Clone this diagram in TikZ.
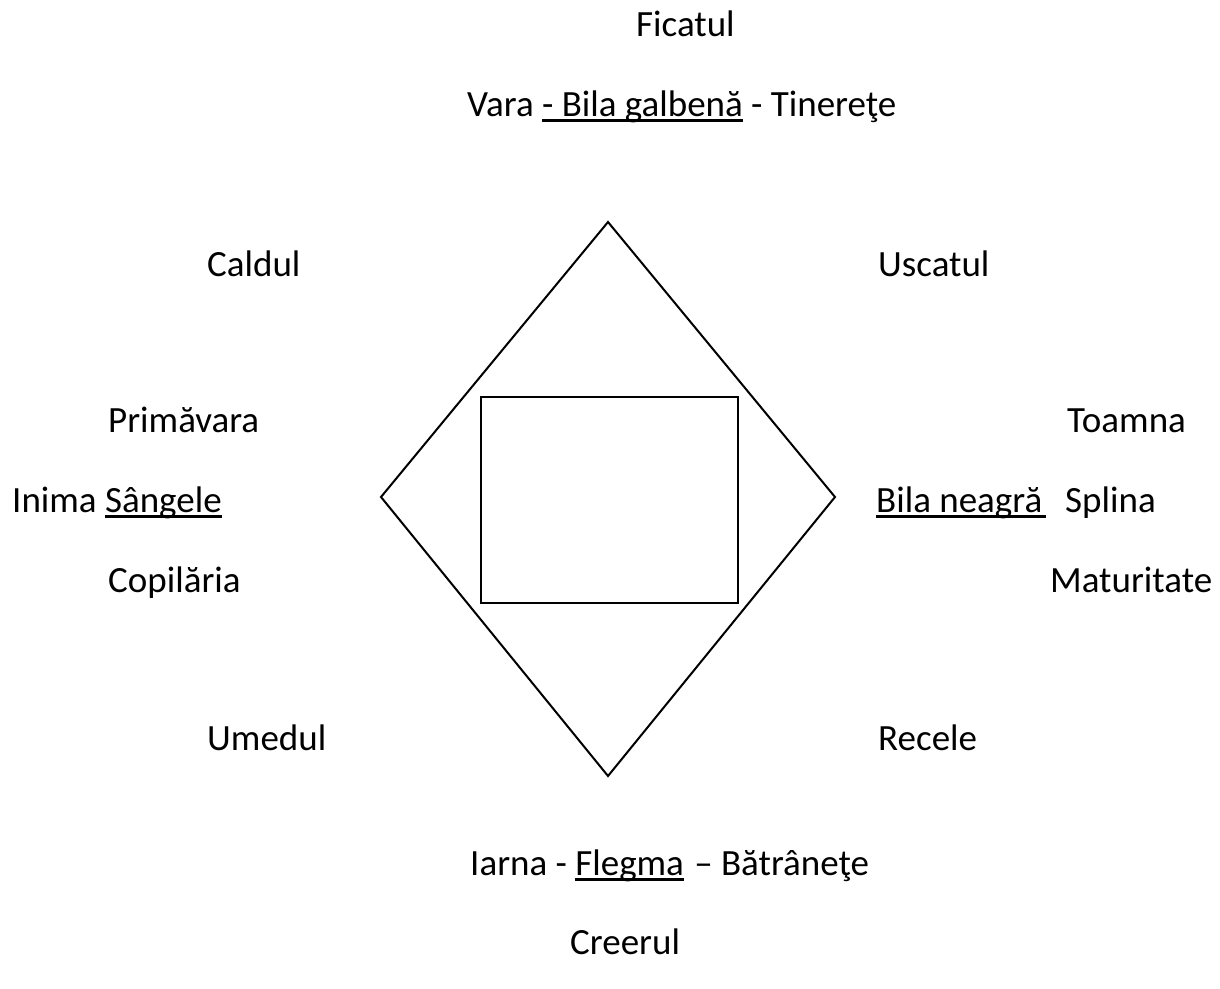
\documentclass[tikz,border=0pt]{standalone}
\usepackage{fontspec}
\setmainfont{Carlito}
\newcommand\myul[1]{\setbox0\hbox{#1}\rlap{\rule[-5.5pt]{\wd0}{2.6pt}}\box0\relax}
\begin{document}
\begin{tikzpicture}[x=1pt,y=-1pt,
  lbl/.style={anchor=base west,inner sep=0pt,font=\fontsize{37}{44}\selectfont},
  shapeline/.style={draw=black,line width=2pt,line join=miter}]
\useasboundingbox (0,0) rectangle (1220,988);
% diamond corners
\coordinate (T) at (608,222);
\coordinate (R) at (835,497);
\coordinate (B) at (608,776);
\coordinate (L) at (381,497);
\draw[shapeline] (T) -- (R) -- (B) -- (L) -- cycle;
\node[shapeline,line width=2.4pt,rectangle,minimum width=257pt,minimum height=206pt,inner sep=0pt] (box) at (609.5,500) {};
% labels
\node[lbl] (ficat) at (636,36) {Ficatul};
\node[lbl] (vara) at (467,116) {Vara \myul{- Bila galbenă} - Tinereţe};
\node[lbl] (cald) at (207,276) {Caldul};
\node[lbl] (usc) at (878,276) {Uscatul};
\node[lbl] (prim) at (108,432) {Primăvara};
\node[lbl] (toamna) at (1067,432) {Toamna};
\node[lbl] (inima) at (12,512) {Inima \myul{Sângele}};
\node[lbl] (bila) at (876,512) {\myul{Bila neagră\hspace{4pt}}\hspace{19pt}Splina};
\node[lbl] (copil) at (108,592) {Copilăria};
\node[lbl] (matur) at (1050,592) {Maturitate};
\node[lbl] (umed) at (207,750) {Umedul};
\node[lbl] (recele) at (878,750) {Recele};
\node[lbl] (iarna) at (470,875) {Iarna - \myul{Flegma}\hspace{2pt} – Bătrâneţe};
\node[lbl] (creer) at (570,954) {Creerul};
\end{tikzpicture}
\end{document}
